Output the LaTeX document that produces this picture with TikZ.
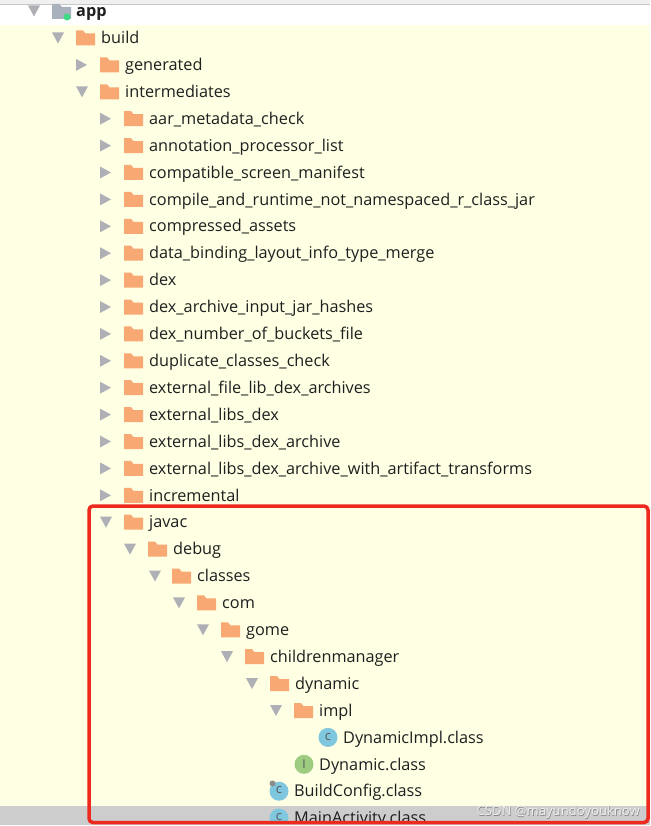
\documentclass[tikz,border=0pt]{standalone}
\usepackage{fontspec}
\setmainfont{Open Sans}
\definecolor{paper}{HTML}{FFFFE4}
\definecolor{dirorange}{HTML}{F8A872}
\definecolor{tipgray}{HTML}{AEB0B6}
\definecolor{rowgray}{HTML}{CDCDCD}
\definecolor{framered}{HTML}{EE2A1E}
\definecolor{classblue}{HTML}{7FC6DF}
\definecolor{ifacegreen}{HTML}{9DCB7F}
\definecolor{modulegray}{HTML}{A9B2BC}
\definecolor{dotgreen}{HTML}{3DDC84}
\tikzset{
  rowtext/.style = {anchor=base west, inner sep=0pt, yshift=-5.7pt, text=black!88, font=\fontsize{16.25}{20}\selectfont},
  closedtip/.pic = {\fill[tipgray] (0,-6) -- (11,0) -- (0,6) -- cycle;},
  opentip/.pic = {\fill[tipgray] (0,-5.5) -- (12,-5.5) -- (6,5.5) -- cycle;},
  diricon/.pic = {\fill[dirorange] (0,-7.5) -- (7,-7.5) -- (9.5,-4.5) -- (19,-4.5) -- (19,7.5) -- (0,7.5) -- cycle;},
  classicon/.pic = {
    \fill[classblue] (0,0) circle (9.5);
    \node[inner sep=0pt, text=black!65, font=\fontsize{13}{13}\selectfont] at (0,-0.8) {c};
  },
  ifaceicon/.pic = {
    \fill[ifacegreen] (0,0) circle (9.5);
    \node[inner sep=0pt, text=black!65, font=\rmfamily\fontsize{12}{12}\selectfont] at (0,0) {I};
  }
}
\begin{document}
\begin{tikzpicture}[x=1pt,y=-1pt]
\useasboundingbox (0,0) rectangle (650,826);

% background bands
\fill[white] (0,0) rectangle (650,25);
\fill[black!6] (0,0) rectangle (650,4);
\fill[black!22] (0,4) rectangle (650,5.5);
\fill[paper] (0,25) rectangle (650,826);
\fill[rowgray] (0,806) rectangle (650,826);

% top of the tree
\pic at (28,11) {opentip};
\fill[modulegray] (52,4) -- (59,4) -- (62,7) -- (71,7) -- (71,19) -- (52,19) -- cycle;
\fill[dotgreen] (67,17) circle (3.5);
\node[rowtext, font=\fontsize{16.25}{20}\selectfont\bfseries] (app) at (76,11) {app};
\pic at (52,38) {opentip}; \pic at (76,38) {diricon}; \node[rowtext] (build) at (101,38) {build};
\pic at (76,64.9) {closedtip}; \pic at (100,64.9) {diricon}; \node[rowtext] (generated) at (125,64.9) {generated};
\pic at (76,91.8) {opentip}; \pic at (100,91.8) {diricon}; \node[rowtext] (intermediates) at (125,91.8) {intermediates};

% collapsed folders
\pic at (100,118.7) {closedtip}; \pic at (124,118.7) {diricon}; \node[rowtext] (aarmetadata) at (149,118.7) {aar\_metadata\_check};
\pic at (100,145.6) {closedtip}; \pic at (124,145.6) {diricon}; \node[rowtext] (annotation) at (149,145.6) {annotation\_processor\_list};
\pic at (100,172.5) {closedtip}; \pic at (124,172.5) {diricon}; \node[rowtext] (screenmanifest) at (149,172.5) {compatible\_screen\_manifest};
\pic at (100,199.4) {closedtip}; \pic at (124,199.4) {diricon}; \node[rowtext] (classjar) at (149,199.4) {compile\_and\_runtime\_not\_namespaced\_r\_class\_jar};
\pic at (100,226.3) {closedtip}; \pic at (124,226.3) {diricon}; \node[rowtext] (assets) at (149,226.3) {compressed\_assets};
\pic at (100,253.2) {closedtip}; \pic at (124,253.2) {diricon}; \node[rowtext] (databinding) at (149,253.2) {data\_binding\_layout\_info\_type\_merge};
\pic at (100,280.1) {closedtip}; \pic at (124,280.1) {diricon}; \node[rowtext] (dex) at (149,280.1) {dex};
\pic at (100,307) {closedtip}; \pic at (124,307) {diricon}; \node[rowtext] (dexhashes) at (149,307) {dex\_archive\_input\_jar\_hashes};
\pic at (100,333.9) {closedtip}; \pic at (124,333.9) {diricon}; \node[rowtext] (dexbuckets) at (149,333.9) {dex\_number\_of\_buckets\_file};
\pic at (100,360.8) {closedtip}; \pic at (124,360.8) {diricon}; \node[rowtext] (duplicate) at (149,360.8) {duplicate\_classes\_check};
\pic at (100,387.7) {closedtip}; \pic at (124,387.7) {diricon}; \node[rowtext] (filelib) at (149,387.7) {external\_file\_lib\_dex\_archives};
\pic at (100,414.6) {closedtip}; \pic at (124,414.6) {diricon}; \node[rowtext] (libsdex) at (149,414.6) {external\_libs\_dex};
\pic at (100,441.5) {closedtip}; \pic at (124,441.5) {diricon}; \node[rowtext] (libsarchive) at (149,441.5) {external\_libs\_dex\_archive};
\pic at (100,468.4) {closedtip}; \pic at (124,468.4) {diricon}; \node[rowtext] (libstransforms) at (149,468.4) {external\_libs\_dex\_archive\_with\_artifact\_transforms};
\pic at (100,495.3) {closedtip}; \pic at (124,495.3) {diricon}; \node[rowtext] (incremental) at (149,495.3) {incremental};

% the open branch
\pic at (100,522.2) {opentip}; \pic at (124,522.2) {diricon}; \node[rowtext] (javac) at (149,522.2) {javac};
\pic at (124,549.1) {opentip}; \pic at (148,549.1) {diricon}; \node[rowtext] (debug) at (173,549.1) {debug};
\pic at (149,576) {opentip}; \pic at (172,576) {diricon}; \node[rowtext] (classes) at (197,576) {classes};
\pic at (173,602.9) {opentip}; \pic at (197,602.9) {diricon}; \node[rowtext] (com) at (222,602.9) {com};
\pic at (197,629.8) {opentip}; \pic at (221,629.8) {diricon}; \node[rowtext] (gome) at (246,629.8) {gome};
\pic at (221,656.7) {opentip}; \pic at (245,656.7) {diricon}; \node[rowtext] (childrenmanager) at (270,656.7) {childrenmanager};
\pic at (246,683.6) {opentip}; \pic at (270,683.6) {diricon}; \node[rowtext] (dynamic) at (295,683.6) {dynamic};
\pic at (270,710.5) {opentip}; \pic at (294,710.5) {diricon}; \node[rowtext] (impl) at (319,710.5) {impl};

% class files
\pic at (328,737.4) {classicon}; \node[rowtext] (dynamicimpl) at (343,737.4) {DynamicImpl.class};
\pic at (304,764.3) {ifaceicon}; \node[rowtext] (dynamicclass) at (319,764.3) {Dynamic.class};
\pic at (279,791.2) {classicon}; \fill[black!45] (272.5,783.5) circle (3); \node[rowtext] (buildconfig) at (294,791.2) {BuildConfig.class};
\begin{scope}
\clip (0,0) rectangle (650,822);
\pic at (279,818.1) {classicon}; \node[rowtext] (mainactivity) at (294,818.1) {MainActivity.class};
\end{scope}

% red frame and watermark
\draw[framered, line width=3.5pt, rounded corners=4pt] (89,506) rectangle (648,822.5);
\fill[white] (0,824.5) rectangle (650,826);
\node[anchor=east, inner sep=0pt, text=black!50, font=\fontsize{13.1}{14}\selectfont] at (640.6,812.6) {CSDN @mayundoyouknow};
\node[anchor=east, inner sep=0pt, text=white!94!black, font=\fontsize{13.1}{14}\selectfont] (watermark) at (640,812) {CSDN @mayundoyouknow};
\end{tikzpicture}
\end{document}
